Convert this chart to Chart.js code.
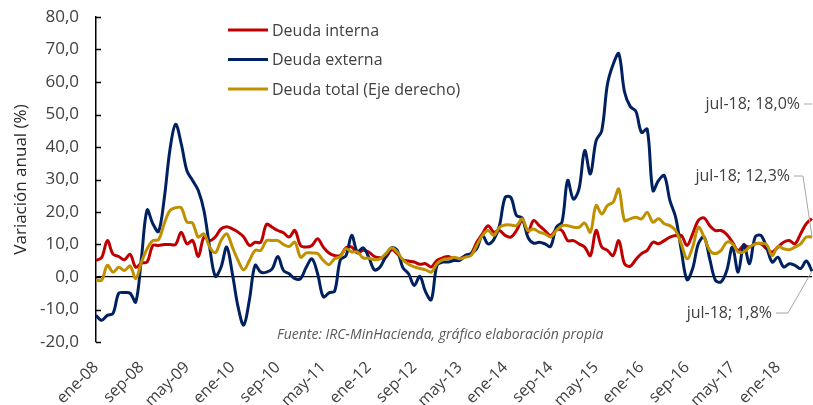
<!DOCTYPE html>
<html>
<head>
<meta charset="utf-8">
<script src="https://cdn.jsdelivr.net/npm/chart.js@4/dist/chart.umd.min.js"></script>
<style>
  html, body { margin: 0; padding: 0; background: #fff; }
  #wrap { width: 813px; height: 405px; }
</style>
</head>
<body>
<div id="wrap"><canvas id="deudaChart" width="813" height="405"></canvas></div>
<script>
// Variacion anual de la deuda - Fuente: IRC-MinHacienda
const meses = ['ene','feb','mar','abr','may','jun','jul','ago','sep','oct','nov','dic'];
const anioInicio = 2008;
const anioFinal = 2018;
const mesFinal = 7; // jul-18

// categorias mensuales ene-08 ... jul-18
const periodos = [];
for (let a = anioInicio; a <= anioFinal; a++) {
  for (let m = 0; m < 12; m++) {
    if (a === anioFinal && m >= mesFinal) break;
    periodos.push(`${meses[m]}-${String(a).slice(2)}`);
  }
}

// Deuda interna (%)
const deudaInterna = [
  5.1, 6, 11.2, 7, 6.3, 5.3, 7, 3, 4.3, 4.6, 9.7, 9.7,
  10, 10, 10, 13.8, 10.2, 11.2, 6.3, 12.3, 11.2, 12.3, 14.8, 15.5,
  14.8, 13.8, 12.3, 9.7, 10.7, 10.7, 16.2, 15.3, 14.3, 13.6, 12.3, 14.3,
  9.7, 9.2, 9.7, 11.8, 9.2, 7.4, 6.6, 6.6, 9, 9.2, 7.4, 8.2,
  7.7, 6.3, 5.9, 6.1, 8.4, 7.2, 5.3, 4.9, 4.6, 3.9, 4.1, 3.1,
  5.1, 5.9, 6.3, 5.6, 5.6, 6.6, 7.2, 10.7, 13.3, 15.8, 13.8, 14.3,
  12.8, 12.3, 14.3, 17.4, 13.8, 17.4, 15.8, 14.3, 12.8, 14.5, 14.3, 11.2,
  11.2, 10.2, 9.2, 6.6, 14.3, 9.2, 8.2, 6.6, 11.2, 4.1, 3.3, 5.4,
  7.2, 8.2, 10.7, 10.2, 11.2, 12.3, 12.8, 12.8, 9.7, 13.3, 17.4, 18.2,
  15.8, 14.3, 14.3, 13.1, 10.7, 8.2, 9.7, 9.2, 10.2, 10.2, 8.7, 7.7,
  9.2, 10.7, 11.2, 10.2, 13.3, 16.4, 18.0
];

// Deuda externa (%)
const deudaExterna = [
  -11.8, -13.3, -11.8, -11.2, -5, -4.8, -5, -7.7, 6, 20.6, 16.4, 14,
  24, 39, 47, 41, 32.7, 29.7, 26.6, 20.4, 9.2, 0.2, 3, 9.2,
  1, -9.2, -14.8, -7, 3.6, 1.5, 1.5, 2.5, 6.3, 2, 1, -0.5,
  -0.5, 3, 5.6, 1, -6.1, -4.9, -4.3, 5.3, 6.6, 12.8, 7.7, 9,
  6.1, 2.2, 3.1, 6.3, 9, 8.2, 2.9, 1, -2.6, 0.2, -4.6, -7,
  3.6, 4.6, 4.6, 5.1, 5.1, 6.6, 7.2, 8.7, 12.8, 10.2, 11.5, 15.8,
  24.5, 24.5, 18.9, 18.2, 12.3, 10.4, 10.7, 10.2, 9.4, 15.3, 16.9, 29.7,
  24, 27.1, 38.9, 31.7, 41.9, 45, 59.3, 65.4, 68.7, 57, 52.5, 51,
  44.5, 45.5, 26.6, 29.7, 31.2, 23.5, 18.4, 8.2, -0.8, 2.6, 10.2, 12.3,
  5.6, -1, -1.5, 2, 9.2, 1.5, 10, 4.1, 12.3, 12.8, 9.2, 4.6,
  6.1, 3.1, 4.1, 3.6, 2.6, 4.9, 1.8
];

// Deuda total (%) - eje derecho
const deudaTotal = [
  -1, -1, 3.6, 1.5, 3, 2, 3.4, -0.5, 4.6, 8.7, 11.2, 11.5,
  16.4, 20.4, 21.3, 21.3, 16.9, 16.6, 12.3, 13.3, 9.2, 7.5, 11.2, 13.3,
  9.2, 5.1, 2.2, 5.1, 8.2, 8.2, 11.2, 11.2, 11.2, 10, 9.4, 10.7,
  6.1, 7.4, 7.4, 7.2, 5.1, 3.8, 5.6, 6.3, 8.7, 7.7, 7.7, 5.9,
  5.8, 5.3, 5.6, 7.2, 9, 7.7, 5.3, 3.9, 3.1, 2.6, 2.2, 1.5,
  4.1, 5.3, 5.6, 6.1, 5.6, 6.1, 6.6, 9.7, 12.8, 14.3, 12.8, 15.3,
  16, 16, 15.8, 17.9, 14.3, 14.8, 13.8, 13.3, 12.3, 14.3, 15.8, 15.8,
  15.3, 15.3, 16.6, 13.8, 22, 19.4, 22, 23, 27.1, 17.4, 17.9, 18.4,
  17.9, 19.9, 16.9, 17.9, 16.4, 15.8, 14.3, 10.2, 5.6, 9.2, 15.3, 12.3,
  8.2, 7.2, 8.2, 10.7, 10.2, 7.7, 7.7, 9.2, 10.2, 10.4, 10, 6.6,
  9.4, 8.7, 8.4, 9.2, 10.2, 12.3, 12.3
];

const ejeMin = -20;
const ejeMax = 80;
const pasoEtiquetas = 8; // una etiqueta cada 8 meses
const fuente = 'Fuente: IRC-MinHacienda, gráfico elaboración propia';
const fmt = v => v.toFixed(1).replace('.', ',');

const FONT = '"Open Sans", "Liberation Sans", sans-serif';
const TXT = '#404040';

// leyenda dibujada dentro del area del grafico
const leyendaPlugin = {
  id: 'leyenda',
  afterDraw(chart) {
    const ctx = chart.ctx;
    ctx.save();
    ctx.font = `16px ${FONT}`;
    ctx.textBaseline = 'middle';
    chart.data.datasets.forEach((ds, i) => {
      const y = 30 + i * 29.5;
      ctx.strokeStyle = ds.borderColor;
      ctx.lineWidth = 3;
      ctx.beginPath();
      ctx.moveTo(228, y);
      ctx.lineTo(268, y);
      ctx.stroke();
      ctx.fillStyle = TXT;
      ctx.fillText(ds.label, 272, y + 1);
    });
    // nota de fuente
    ctx.font = `italic 14px ${FONT}`;
    ctx.fillStyle = '#595959';
    ctx.fillText(fuente, 277, 335);
    // marcas del eje vertical hacia adentro
    const ys = chart.scales.y;
    ctx.strokeStyle = '#000';
    ctx.lineWidth = 1.5;
    ys.ticks.forEach(t => {
      const py = Math.round(ys.getPixelForValue(t.value)) + 0.5;
      ctx.beginPath();
      ctx.moveTo(ys.right, py);
      ctx.lineTo(ys.right + 5, py);
      ctx.stroke();
    });
    ctx.restore();
  }
};

// etiquetas del ultimo dato (jul-18)
const notas = [
  { ds: 0, tx: 800, ty: 104, codo: null },
  { ds: 2, tx: 790, ty: 176, codo: 803 },
  { ds: 1, tx: 772, ty: 313, codo: 788 }
];
const ultimoPlugin = {
  id: 'ultimo',
  afterDatasetsDraw(chart) {
    const ctx = chart.ctx;
    ctx.save();
    ctx.font = `16px ${FONT}`;
    ctx.textBaseline = 'middle';
    ctx.textAlign = 'right';
    notas.forEach(n => {
      const ds = chart.data.datasets[n.ds];
      const meta = chart.getDatasetMeta(n.ds);
      const last = ds.data.length - 1;
      const p = meta.data[last];
      ctx.fillStyle = TXT;
      ctx.fillText(`${periodos[last]}; ${fmt(ds.data[last])}%`, n.tx, n.ty);
      ctx.strokeStyle = '#A6A6A6';
      ctx.lineWidth = 1;
      ctx.beginPath();
      ctx.moveTo(n.tx + 4, n.ty);
      if (n.codo === null) {
        ctx.lineTo(p.x, n.ty);
      } else {
        ctx.lineTo(n.codo, n.ty);
        ctx.lineTo(p.x, p.y);
      }
      ctx.stroke();
    });
    ctx.restore();
  }
};

const ctx = document.getElementById('deudaChart');
const myChart = new Chart(ctx, {
  type: 'line',
  data: {
    labels: periodos,
    datasets: [
      { label: 'Deuda interna', data: deudaInterna, borderColor: '#C00000', order: 3, yAxisID: 'y' },
      { label: 'Deuda externa', data: deudaExterna, borderColor: '#002060', order: 2, yAxisID: 'y' },
      { label: 'Deuda total (Eje derecho)', data: deudaTotal, borderColor: '#BF9000', order: 1, yAxisID: 'y1' }
    ].map(d => Object.assign(d, { borderWidth: 3, pointRadius: 0, tension: 0.35, fill: false }))
  },
  options: {
    responsive: false,
    animation: false,
    layout: { padding: { top: 17, right: 1, left: 0, bottom: 0 } },
    plugins: { legend: { display: false }, tooltip: { enabled: false } },
    scales: {
      x: {
        grid: { display: false },
        border: { display: false },
        ticks: {
          autoSkip: false,
          maxRotation: 45,
          minRotation: 45,
          padding: 8,
          color: TXT,
          font: { family: FONT, size: 16 },
          callback: function (v, i) { return i % pasoEtiquetas === 0 ? this.getLabelForValue(v) : null; }
        },
        afterFit: s => { s.height = 63; }
      },
      y: {
        min: ejeMin,
        max: ejeMax,
        ticks: {
          stepSize: 10,
          padding: 4,
          color: TXT,
          font: { family: FONT, size: 17 },
          callback: v => fmt(v)
        },
        grid: {
          color: c => (c.tick && c.tick.value === 0 ? '#000' : 'rgba(0,0,0,0)'),
          lineWidth: 1.3,
          tickLength: 13,
          tickColor: 'rgba(0,0,0,0)'
        },
        border: { color: '#000', width: 1.5 },
        title: {
          display: true,
          text: 'Variación anual (%)',
          color: '#262626',
          font: { family: FONT, size: 17 },
          padding: { top: 11, bottom: 0 }
        },
        afterFit: s => { s.width = 96; }
      },
      y1: {
        display: false,
        position: 'right',
        min: ejeMin,
        max: ejeMax
      }
    }
  },
  plugins: [leyendaPlugin, ultimoPlugin]
});
</script>
</body>
</html>
